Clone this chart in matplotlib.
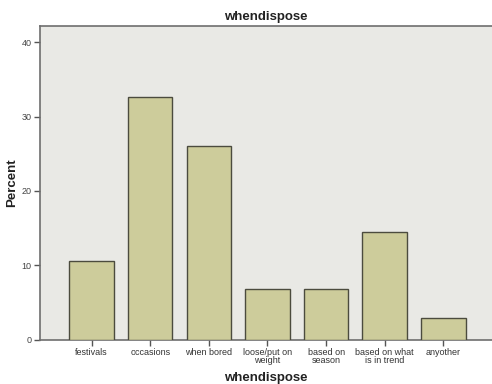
import matplotlib
matplotlib.use("Agg")
import matplotlib.pyplot as plt

categories = ["festivals", "occasions", "when bored", "loose/put on\nweight",
              "based on\nseason", "based on what\nis in trend", "anyother"]
percent = [10.6, 32.7, 26.0, 6.8, 6.8, 14.5, 2.9]
yticks = [0, 10, 20, 30, 40]

plt.rcParams["font.family"] = ["Liberation Sans", "DejaVu Sans"]

fig = plt.figure(figsize=(4.92, 3.84), dpi=100)
W, H = 492, 384
ax = fig.add_axes([40 / W, (H - 339.5) / H, (W - 40) / W, (339.5 - 26) / H])
ax.set_facecolor("#E9E9E5")

x = list(range(len(categories)))
ax.bar(x, percent, width=0.76, color="#CDCC9B", edgecolor="#4B4B3E", linewidth=1.0, zorder=3)

ax.set_xlim(-0.88, 6.83)
ax.set_ylim(0, 42.2)
ax.set_yticks(yticks)
ax.set_yticklabels([str(v) for v in yticks], fontsize=6.5, color="#444444")
ax.set_xticks(x)
ax.set_xticklabels(categories, fontsize=6.5, color="#333333", linespacing=0.95)
ax.tick_params(axis="both", direction="out", length=4, width=1.0, color="#555555", pad=2)

for side in ["left", "bottom", "top"]:
    ax.spines[side].set_color("#6E6E6E")
    ax.spines[side].set_linewidth(1.2)
ax.spines["right"].set_visible(False)

ax.set_title("whendispose", fontsize=9.5, fontweight="bold", color="#222222", pad=4)
fig.text(266 / W, 1 - 378 / H, "whendispose", fontsize=9.5, fontweight="bold",
         color="#222222", ha="center", va="center")
fig.text(12 / W, 1 - 183 / H, "Percent", fontsize=9.5, fontweight="bold",
         color="#222222", ha="center", va="center", rotation=90)

fig.savefig("out.png", dpi=100)
